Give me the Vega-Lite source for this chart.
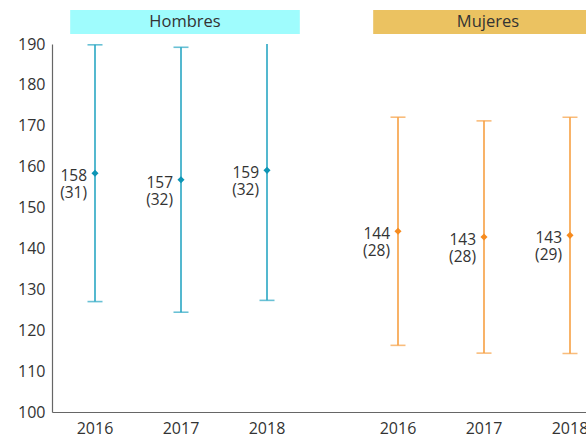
{
  "$schema": "https://vega.github.io/schema/vega-lite/v6.json",
  "width": 534,
  "height": 368,
  "autosize": {"type": "none"},
  "padding": {"left": 52, "top": 44, "right": 0, "bottom": 25},
  "background": "white",
  "config": {
    "view": {"stroke": null},
    "font": "Open Sans",
    "axisX": {"labels": false, "ticks": false, "grid": false, "domainColor": "#666666", "domainWidth": 1.2, "title": null},
    "axisY": {"ticks": false, "tickSize": 0, "labelPadding": 7, "labelFontSize": 16, "labelColor": "#333333", "domainColor": "#666666", "domainWidth": 1.2, "gridColor": "#e8f1f1", "gridWidth": 1.2, "title": null, "values": [100, 110, 120, 130, 140, 150, 160, 170, 180, 190]}
  },
  "data": {
    "values": [
      {"sexo": "Hombres", "anio": "2016", "media": 158.4, "inf": 127.0, "sup": 189.8, "etiqueta": "158\n(31)"},
      {"sexo": "Hombres", "anio": "2017", "media": 156.8, "inf": 124.4, "sup": 189.2, "etiqueta": "157\n(32)"},
      {"sexo": "Hombres", "anio": "2018", "media": 159.1, "inf": 127.3, "sup": 191.0, "etiqueta": "159\n(32)"},
      {"sexo": "Mujeres", "anio": "2016", "media": 144.2, "inf": 116.3, "sup": 172.1, "etiqueta": "144\n(28)"},
      {"sexo": "Mujeres", "anio": "2017", "media": 142.8, "inf": 114.4, "sup": 171.2, "etiqueta": "143\n(28)"},
      {"sexo": "Mujeres", "anio": "2018", "media": 143.2, "inf": 114.3, "sup": 172.1, "etiqueta": "143\n(29)"}
    ]
  },
  "resolve": {"scale": {"color": "independent"}},
  "layer": [
    {
      "data": {"values": [{"sexo": "Hombres"}, {"sexo": "Mujeres"}]},
      "mark": {"type": "bar", "width": {"band": 0.89}, "xOffset": 4, "clip": false},
      "encoding": {
        "x": {"field": "sexo", "type": "nominal", "scale": {"domain": ["Hombres", "Mujeres"], "range": [0, 561], "paddingInner": 0.1485, "paddingOuter": 0}, "title": null},
        "y": {"datum": 198.3, "type": "quantitative", "scale": {"domain": [100, 190], "nice": false, "zero": false}, "title": null},
        "y2": {"datum": 192.45},
        "color": {"field": "sexo", "type": "nominal", "scale": {"domain": ["Hombres", "Mujeres"], "range": ["#9ffcfd", "#ebc261"]}, "legend": null}
      }
    },
    {
      "data": {"values": [{"sexo": "Hombres"}, {"sexo": "Mujeres"}]},
      "mark": {"type": "text", "fontSize": 16.5, "color": "#333333", "baseline": "middle", "align": "center", "dx": 4, "clip": false},
      "encoding": {
        "x": {"field": "sexo", "type": "nominal"},
        "y": {"datum": 195.4, "type": "quantitative"},
        "text": {"field": "sexo"}
      }
    },
    {
      "mark": {"type": "rule", "strokeWidth": 1.6, "clip": true},
      "encoding": {
        "x": {"field": "sexo", "type": "nominal"},
        "xOffset": {"field": "anio", "type": "nominal", "scale": {"paddingInner": 0, "paddingOuter": 0}},
        "y": {"field": "inf", "type": "quantitative"},
        "y2": {"field": "sup"},
        "color": {"field": "sexo", "type": "nominal", "scale": {"domain": ["Hombres", "Mujeres"], "range": ["#2aa7c3", "#f7a043"]}, "legend": null}
      }
    },
    {
      "mark": {"type": "tick", "thickness": 1.6, "size": 15, "clip": true},
      "encoding": {
        "x": {"field": "sexo", "type": "nominal"},
        "xOffset": {"field": "anio", "type": "nominal"},
        "y": {"field": "inf", "type": "quantitative"},
        "color": {"field": "sexo", "type": "nominal", "scale": {"domain": ["Hombres", "Mujeres"], "range": ["#2aa7c3", "#f7a043"]}, "legend": null}
      }
    },
    {
      "mark": {"type": "tick", "thickness": 1.6, "size": 15, "clip": true},
      "encoding": {
        "x": {"field": "sexo", "type": "nominal"},
        "xOffset": {"field": "anio", "type": "nominal"},
        "y": {"field": "sup", "type": "quantitative"},
        "color": {"field": "sexo", "type": "nominal", "scale": {"domain": ["Hombres", "Mujeres"], "range": ["#2aa7c3", "#f7a043"]}, "legend": null}
      }
    },
    {
      "mark": {"type": "point", "shape": "diamond", "filled": true, "size": 50, "opacity": 1},
      "encoding": {
        "x": {"field": "sexo", "type": "nominal"},
        "xOffset": {"field": "anio", "type": "nominal"},
        "y": {"field": "media", "type": "quantitative"},
        "color": {"field": "sexo", "type": "nominal", "scale": {"domain": ["Hombres", "Mujeres"], "range": ["#0d95b5", "#f68b1f"]}, "legend": null}
      }
    },
    {
      "mark": {"type": "text", "align": "right", "baseline": "middle", "dx": -8, "dy": 3, "fontSize": 15.5, "lineHeight": 17, "lineBreak": "\n", "color": "#333333"},
      "encoding": {
        "x": {"field": "sexo", "type": "nominal"},
        "xOffset": {"field": "anio", "type": "nominal"},
        "y": {"field": "media", "type": "quantitative"},
        "text": {"field": "etiqueta"}
      }
    },
    {
      "mark": {"type": "text", "align": "center", "baseline": "middle", "dy": 17, "fontSize": 16, "color": "#333333", "clip": false},
      "encoding": {
        "x": {"field": "sexo", "type": "nominal"},
        "xOffset": {"field": "anio", "type": "nominal"},
        "y": {"datum": 100, "type": "quantitative"},
        "text": {"field": "anio"}
      }
    }
  ]
}
